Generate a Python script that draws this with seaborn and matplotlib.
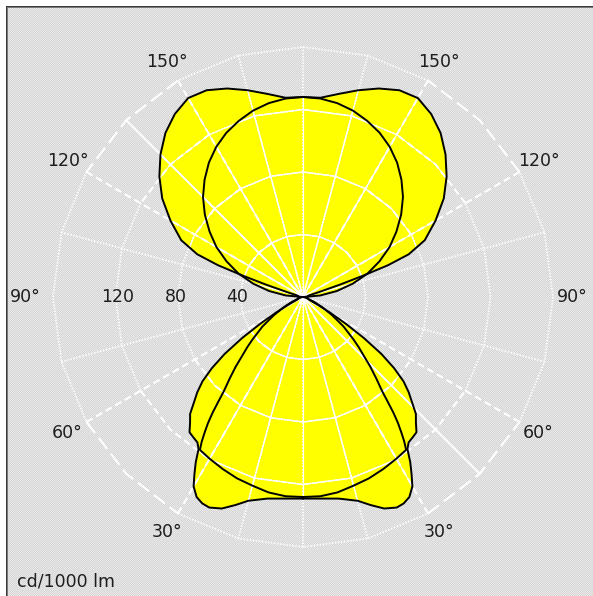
import numpy as np
import pandas as pd
import seaborn as sns
import matplotlib.pyplot as plt

# Light distribution in cd/1000 lm, gamma 0 = straight down, 180 = straight up.
# Both C-planes are symmetric left/right, so one half is listed and mirrored.
gamma_a_down = [0, 5, 10, 15, 18, 21, 24, 26, 28, 30, 31.5, 33, 34.5, 36, 38, 40, 42, 44,
                46, 48, 50, 52, 54, 56, 58, 60, 62, 64, 66, 75, 90]
cd_a_down = [129, 129.5, 131, 135, 140, 145, 147.5, 147, 145, 140, 133, 126, 118, 115, 114, 113,
             108, 104, 97, 91, 84, 74, 62, 47, 32, 20, 11, 6, 4, 3, 3]
gamma_a_up = [90, 100, 105, 107, 108.5, 109.5, 110.5, 112, 115, 120, 125, 130, 135, 140, 145,
              150, 155, 160, 165, 170, 175, 180]
cd_a_up = [3, 3, 4, 10, 25, 40, 58, 73, 86, 98, 110, 120, 129, 137, 143, 147, 146, 142, 137,
           132, 128, 128]

gamma_b_down = [0, 5, 10, 15, 20, 25, 30, 34, 35, 36, 37, 38, 39, 40, 42, 44, 46, 48, 50, 54,
                58, 62, 66, 70, 80, 90]
cd_b_down = [128, 128, 127, 125, 123.5, 121.5, 119.5, 118, 113, 107, 101, 94, 86, 79, 70, 62,
             54, 48, 42, 32, 22, 14, 8, 4, 1, 0]
gamma_b_up = [90, 95, 100, 105, 110, 115, 120, 125, 130, 135, 140, 145, 150, 155, 160, 165,
              170, 175, 180]
cd_b_up = [0, 11, 22, 33, 44, 54, 64, 73, 82, 90.5, 98, 105, 111, 116, 120, 123.5, 126, 127.5,
           128]

ring_values = [40, 80, 120, 160]
ring_labels = ["40", "80", "120"]
ring_label_r = [42, 81.5, 118.5]
angle_labels = [30, 60, 90, 120, 150]

PX_PER_CD = 1.5625
R_MAX = 190
W, H = 593, 596
CX, CY = 303, 297

sns.set_theme(style="white")
plt.rcParams["font.family"] = ["DejaVu Sans"]

fig = plt.figure(figsize=(W / 100, H / 100), dpi=100)

# --- grey checker background with a dark frame line top/left ---
bg = fig.add_axes([0, 0, 1, 1])
yy, xx = np.indices((H, W))
tex = np.where((yy + xx) % 2 == 0, 233, 213).astype(np.uint8)
tex[:6, :] = 255
tex[:, :6] = 255
tex[6:8, 6:] = 120
tex[6:, 6:8] = 120
tex[6, 6:] = 60
tex[6:, 6] = 60
bg.imshow(np.dstack([tex] * 3), extent=(0, W, H, 0), interpolation="nearest", aspect="auto")
bg.set_axis_off()
bg.set_zorder(-1)

# --- polar axes: 0 deg at the bottom, angles grow towards the right side ---
R = R_MAX * PX_PER_CD
ax = fig.add_axes([(CX - R) / W, (H - CY - R) / H, 2 * R / W, 2 * R / H], projection="polar")
ax.set_theta_zero_location("S")
ax.set_theta_direction(1)
ax.set_facecolor("none")

styles = {
    "dot": dict(color="white", lw=1.3, dashes=(0.8, 0.9), dash_capstyle="butt"),
    "mid": dict(color="white", lw=1.5, dashes=(3.4, 1.9), dash_capstyle="butt"),
    "long": dict(color="white", lw=1.5, dashes=(6.7, 2.9), dash_capstyle="butt"),
    "solid": dict(color="white", lw=1.4),
}

# grid: rings as 15-degree polygons, radial spokes every 15 degrees
segments = []
for r in ring_values:
    for t0, t1 in [(-30, 30), (60, 120), (150, 210), (240, 300)]:
        th = np.arange(t0, t1 + 1, 15)
        segments.append((th, np.full(len(th), r), "dot"))
    for t0 in [30, 120, 210, 300]:
        th = np.arange(t0, t0 + 31, 15)
        segments.append((th, np.full(len(th), r), "long" if r == ring_values[-1] else "mid"))
for t in range(0, 360, 15):
    if t in (90, 270, 135, 315):
        continue
    if t in (45, 225):
        style = "solid"
    elif t % 30 == 0 and t % 90 != 0:
        style = "mid"
    else:
        style = "dot"
    segments.append((np.array([t, t]), np.array([0, ring_values[-1]]), style))

for th, r, style in segments:
    ax.plot(np.deg2rad(th), r, **styles[style])


def full_curve(g_down, c_down, g_up, c_up):
    g = np.array(g_down + g_up[1:], dtype=float)
    c = np.array(c_down + c_up[1:], dtype=float)
    theta = np.concatenate([g, 360 - g[::-1][1:]])
    rr = np.concatenate([c, c[::-1][1:]])
    return np.deg2rad(theta), rr


th_a, r_a = full_curve(gamma_a_down, cd_a_down, gamma_a_up, cd_a_up)
th_b, r_b = full_curve(gamma_b_down, cd_b_down, gamma_b_up, cd_b_up)

patches = ax.fill(th_a, r_a, color="#ffff00", lw=0) + ax.fill(th_b, r_b, color="#ffff00", lw=0)

# grid shows as thin solid white lines on top of the yellow area
for patch in patches:
    for th, r, style in segments:
        ln, = ax.plot(np.deg2rad(th), r, color="white", lw=0.8)
        ln.set_clip_path(patch)

curves = pd.concat([
    pd.DataFrame({"theta": th_a, "r": r_a, "plane": "C0-C180"}),
    pd.DataFrame({"theta": th_b, "r": r_b, "plane": "C90-C270"}),
])
sns.lineplot(data=curves, x="theta", y="r", units="plane", estimator=None, sort=False,
             color="black", lw=1.4, ax=ax)

ax.set_ylim(0, R_MAX)
ax.set_xticks([])
ax.set_yticks([])
ax.set_xlabel("")
ax.set_ylabel("")
ax.grid(False)
ax.spines["polar"].set_visible(False)

txt = dict(ha="center", va="center", fontsize=12.5, color="#1e1e1e")
for a in angle_labels:
    for t in (a, 360 - a):
        if a == 90:
            rr = 172.5 if t == 90 else 178
        else:
            rr = 174
        ax.text(np.deg2rad(t), rr, f"{a}°", **txt)
for lab, rr in zip(ring_labels, ring_label_r):
    ax.text(np.deg2rad(270), rr, lab, **txt)

fig.text(17 / W, 1 - 581 / H, "cd/1000 lm", ha="left", va="center", fontsize=12.5,
         color="#1e1e1e")

fig.savefig("out.png", dpi=100)
